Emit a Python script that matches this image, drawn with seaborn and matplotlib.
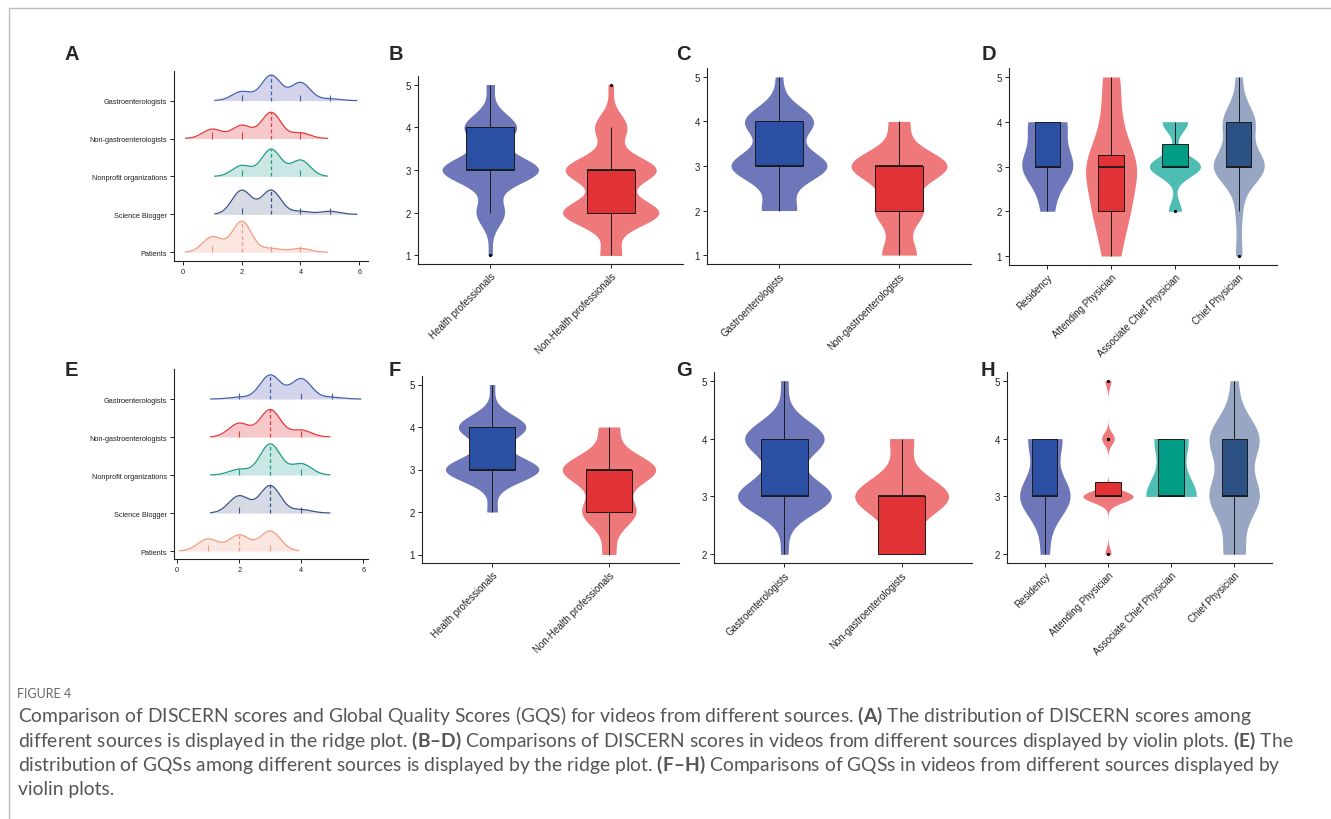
import numpy as np
import pandas as pd
import matplotlib
matplotlib.use("Agg")
import matplotlib.pyplot as plt
from matplotlib.lines import Line2D
import seaborn as sns

scores = [1, 2, 3, 4, 5]

# ridge plots (A, E): number of videos per score, bottom ridge first
sources = ["Patients", "Science Blogger", "Nonprofit organizations",
           "Non-gastroenterologists", "Gastroenterologists"]
discern_patients = [4, 8, 1, 1, 0]
discern_blogger = [0, 8, 8, 1, 1]
discern_nonprofit = [0, 4, 10, 6, 0]
discern_nongastro = [5, 7, 14, 3, 0]
discern_gastro = [0, 5, 14, 10, 1]

gqs_patients = [3, 4, 5, 0, 0]
gqs_blogger = [0, 5, 8, 1, 0]
gqs_nonprofit = [0, 2, 11, 4, 0]
gqs_nongastro = [0, 6, 12, 3, 0]
gqs_gastro = [0, 1, 13, 11, 1]

# violin plots (B, F)
professions = ["Health professionals", "Non-Health professionals"]
discern_health = [1, 7, 24, 13, 2]
discern_nonhealth = [4, 18, 17, 6, 1]
gqs_health = [0, 2, 18, 13, 1]
gqs_nonhealth = [2, 8, 14, 3, 0]

# violin plots (C, G) reuse the gastro / non-gastro counts
specialties = ["Gastroenterologists", "Non-gastroenterologists"]

# violin plots (D, H)
titles = ["Residency", "Attending Physician", "Associate Chief Physician", "Chief Physician"]
discern_residency = [0, 1, 4, 3, 0]
discern_attending = [1, 2, 3, 1, 1]
discern_associate = [0, 1, 4, 2, 0]
discern_chief = [1, 1, 8, 5, 1]
gqs_residency = [0, 1, 6, 4, 0]
gqs_attending = [0, 1, 8, 2, 1]
gqs_associate = [0, 0, 3, 2, 0]
gqs_chief = [0, 3, 7, 7, 1]

ridge_lines = ["#F39B7F", "#3C5488", "#1B9E89", "#E4393B", "#4161B0"]
ridge_fills = ["#FBE6E0", "#D5DAE5", "#CBE7E3", "#F7C8CA", "#D4D3EC"]
violin_colors = ["#6E77B9", "#EF787B", "#4EBEB4", "#97A7C3"]
box_colors = ["#2A4FA3", "#E13335", "#009C85", "#2C5185"]

sns.set_style("ticks")
plt.rcParams["font.family"] = ["Liberation Sans", "DejaVu Sans"]
plt.rcParams["mathtext.fontset"] = "custom"
plt.rcParams["mathtext.rm"] = "Lato"
plt.rcParams["mathtext.bf"] = "Lato:bold"

W, H = 1331, 820
fig = plt.figure(figsize=(W / 100, H / 100), dpi=100)


def add_ax(l, t, r, b):
    return fig.add_axes([l / W, 1 - b / H, (r - l) / W, (b - t) / H])


def style(ax, size):
    sns.despine(ax=ax)
    for s in ("left", "bottom"):
        ax.spines[s].set_linewidth(0.8)
        ax.spines[s].set_color("#222222")
    ax.tick_params(length=3, width=0.7, colors="#222222", labelsize=size, pad=2)
    ax.set_xlabel("")
    ax.set_ylabel("")


def nrd0_factor(v):
    sd = np.std(v, ddof=1)
    q1, q3 = np.percentile(v, [25, 75])
    lo = min(sd, (q3 - q1) / 1.34)
    return 0.9 * lo * len(v) ** -0.2 / sd


def ridge_panel(box, counts_list, xlim, ylim, bw=0.33, scale=0.82):
    ax = add_ax(*box)
    curves = []
    for counts in counts_list:
        v = np.repeat(scores, counts)
        x = np.linspace(v.min() - 2.8 * bw, v.max() + 2.8 * bw, 400)
        d = np.exp(-0.5 * ((x[:, None] - v[None, :]) / bw) ** 2).sum(1)
        d = d / (len(v) * bw * np.sqrt(2 * np.pi))
        curves.append((v, x, d))
    peak = max(d.max() for _, _, d in curves)
    for i in reversed(range(len(curves))):
        v, x, d = curves[i]
        y = i + d / peak * scale
        ax.fill_between(x, i, y, color=ridge_fills[i], lw=0)
        ax.plot(x, y, color=ridge_lines[i], lw=0.9)
        med = np.median(v)
        ax.vlines(med, i, i + np.interp(med, x, d) / peak * scale,
                  color=ridge_lines[i], lw=0.9, linestyles=(0, (3, 2)))
        others = [u for u in np.unique(v) if u != med]
        ax.vlines(others, i, i + 0.16, color=ridge_lines[i], lw=0.8)
    ax.set_yticks(range(len(sources)))
    ax.set_yticklabels(sources)
    ax.set_xticks([0, 2, 4, 6])
    ax.set_xlim(*xlim)
    ax.set_ylim(*ylim)
    style(ax, 5.3)
    return ax


def violin_panel(box, names, counts_list, ylim, yticks):
    ax = add_ax(*box)
    df = pd.concat([pd.DataFrame({"group": n, "score": np.repeat(scores, c)})
                    for n, c in zip(names, counts_list)], ignore_index=True)
    for k, name in enumerate(names):
        sub = df[df["group"] == name]
        sns.violinplot(data=sub, x="group", y="score", order=names,
                       color=violin_colors[k], saturation=1, cut=0, inner=None,
                       linewidth=0, density_norm="width", width=0.8,
                       bw_method=nrd0_factor(sub["score"].values), ax=ax)
    sns.boxplot(data=df, x="group", y="score", hue="group", order=names,
                hue_order=names, palette=box_colors[:len(names)], saturation=1,
                width=0.4, linewidth=0.7, linecolor="#1a1a1a", fliersize=1.3,
                showcaps=False, legend=False, ax=ax,
                medianprops={"linewidth": 1.3},
                flierprops={"marker": "o", "markerfacecolor": "black",
                            "markeredgecolor": "black"})
    ax.set_xlim(-0.6, len(names) - 0.4)
    ax.set_ylim(*ylim)
    ax.set_yticks(yticks)
    ax.set_xticks(range(len(names)))
    ax.set_xticklabels(names, rotation=45, ha="right", va="top", rotation_mode="anchor")
    style(ax, 7.0)
    return ax


# top row: DISCERN
ridge_panel((174, 72, 368, 262),
            [discern_patients, discern_blogger, discern_nonprofit,
             discern_nongastro, discern_gastro],
            (-0.31, 6.3), (-0.23, 4.78))
violin_panel((418, 77, 683, 265), professions,
             [discern_health, discern_nonhealth], (0.8, 5.2), [1, 2, 3, 4, 5])
violin_panel((707, 69, 971, 265), specialties,
             [discern_gastro, discern_nongastro], (0.8, 5.2), [1, 2, 3, 4, 5])
violin_panel((1009, 69, 1277, 266), titles,
             [discern_residency, discern_attending, discern_associate, discern_chief],
             (0.8, 5.2), [1, 2, 3, 4, 5])

# bottom row: GQS
ridge_panel((174, 370, 368, 560),
            [gqs_patients, gqs_blogger, gqs_nonprofit, gqs_nongastro, gqs_gastro],
            (-0.1, 6.15), (-0.21, 4.79))
violin_panel((422, 377, 679, 564), professions,
             [gqs_health, gqs_nonhealth], (0.8, 5.2), [1, 2, 3, 4, 5])
violin_panel((714, 373, 972, 564), specialties,
             [gqs_gastro, gqs_nongastro], (1.85, 5.15), [2, 3, 4, 5])
violin_panel((1007, 373, 1272, 564), titles,
             [gqs_residency, gqs_attending, gqs_associate, gqs_chief],
             (1.85, 5.15), [2, 3, 4, 5])

# panel letters
for letter, x, y in [("A", 72, 54), ("B", 396, 54), ("C", 683, 54), ("D", 989, 54),
                     ("E", 71, 371), ("F", 395, 371), ("G", 684, 371), ("H", 988, 371)]:
    fig.text(x / W, 1 - y / H, letter, fontsize=14.5, fontweight="bold",
             ha="center", va="center", family=["Liberation Sans", "DejaVu Sans"])

# page frame
fig.add_artist(Line2D([9 / W, 1], [1 - 9 / H, 1 - 9 / H], transform=fig.transFigure,
                      color="#BDBDBD", lw=1))
fig.add_artist(Line2D([9 / W, 9 / W], [0, 1 - 9 / H], transform=fig.transFigure,
                      color="#BDBDBD", lw=1))

# caption
fig.text(17 / W, 1 - 698 / H, "FIGURE 4", fontsize=9, color="#666666",
         family=["Lato", "DejaVu Sans"], va="baseline")
caption = [
    r"Comparison of DISCERN scores and Global Quality Scores (GQS) for videos from different sources. $\mathbf{(A)}$ The distribution of DISCERN scores among",
    r"different sources is displayed in the ridge plot. $\mathbf{(B–D)}$ Comparisons of DISCERN scores in videos from different sources displayed by violin plots. $\mathbf{(E)}$ The",
    r"distribution of GQSs among different sources is displayed by the ridge plot. $\mathbf{(F–H)}$ Comparisons of GQSs in videos from different sources displayed by",
    r"violin plots.",
]
for k, line in enumerate(caption):
    fig.text(18 / W, 1 - (722 + 24.5 * k) / H, line, fontsize=13.85, color="#555555",
             family=["Lato", "DejaVu Sans"], va="baseline")

fig.savefig("out.png", dpi=100)
